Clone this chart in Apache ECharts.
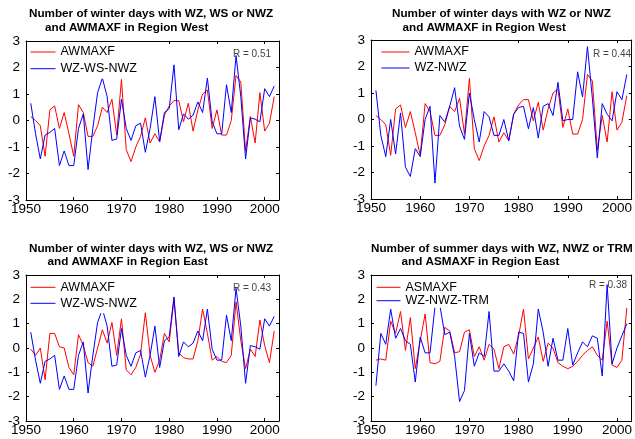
<!DOCTYPE html>
<html><head><meta charset="utf-8">
<script src="https://cdn.jsdelivr.net/npm/echarts@6/dist/echarts.min.js"></script>
<style>html,body{margin:0;padding:0;background:#fff}#c{width:635px;height:439px}</style>
</head><body><div id="c"></div>
<script>
// ---- data ----
const years = [1951,1952,1953,1954,1955,1956,1957,1958,1959,1960,
  1961,1962,1963,1964,1965,1966,1967,1968,1969,1970,
  1971,1972,1973,1974,1975,1976,1977,1978,1979,1980,
  1981,1982,1983,1984,1985,1986,1987,1988,1989,1990,
  1991,1992,1993,1994,1995,1996,1997,1998,1999,2000,
  2001,2002];
const awmaxfWest = [0.15,0.0,-0.2,-1.35,0.4,0.55,-0.3,0.3,-0.5,-1.35,
  0.6,0.3,-0.6,-0.6,-0.2,0.5,0.3,0.8,-0.55,1.55,
  -1.1,-1.55,-1.0,-0.6,0.1,-0.85,-0.5,-0.8,0.2,0.55,
  0.75,0.75,-0.05,0.65,-0.4,0.4,1.0,1.15,-0.3,0.4,
  -0.55,-0.55,0.0,1.7,1.45,-1.15,0.15,-0.85,1.05,-0.4,
  -0.1,0.9];
const wzWsNwz = [0.65,-0.5,-1.45,-0.55,-0.45,-0.3,-1.7,-1.15,-1.7,-1.7,
  -0.3,0.25,-1.85,-0.3,1.05,1.6,0.9,-0.75,-0.7,0.8,
  -0.3,-0.75,-0.2,-0.1,-1.2,-0.3,0.9,-0.8,0.3,0.45,
  2.1,-0.35,0.25,0.05,0.2,0.7,0.3,1.6,-0.05,-0.5,
  -0.5,1.35,0.3,2.45,0.9,-1.45,0.1,0.05,-0.05,1.2,
  0.9,1.3];
const wzNwz = [1.1,-0.6,-1.4,0.0,-1.3,0.25,-1.8,-2.15,-1.1,-1.4,
  0.0,0.5,-2.4,0.15,-0.1,0.5,1.2,-0.25,-0.75,1.0,
  0.0,-0.85,0.3,0.1,-0.6,-0.6,0.0,-0.8,0.2,0.45,
  0.5,-0.35,0.45,-0.7,0.5,0.6,0.15,1.4,-0.05,0.0,
  0.0,1.8,0.85,2.75,0.8,-1.45,0.6,0.2,-0.05,1.05,
  0.75,1.7];
const awmaxfEast = [-0.05,-0.3,0.0,-1.3,0.6,0.6,0.05,0.0,-0.8,-1.1,
  0.55,0.1,-0.6,-0.75,0.0,0.75,0.2,1.05,-0.3,1.2,
  -0.9,-1.1,-0.8,-0.25,1.45,-0.3,-1.0,-0.5,0.6,0.25,
  2.0,-0.2,-0.4,-0.45,-0.45,0.3,1.6,0.6,-0.5,-0.35,
  -0.55,-0.6,-0.3,1.9,0.3,-0.85,-0.05,-0.35,1.15,0.1,
  -0.6,0.7];
const asmaxfEast = [-0.5,-0.45,-0.5,1.1,0.6,1.5,-0.1,1.25,-0.85,0.3,
  1.4,-0.6,-0.65,-0.55,0.85,0.7,-0.2,-0.15,0.65,0.75,
  -0.35,0.05,-0.5,0.15,-0.05,-0.85,0.05,0.15,-0.25,0.5,
  1.6,-0.45,0.0,0.45,-0.55,0.2,0.0,-0.6,-0.75,-0.85,
  -0.75,-0.55,-0.3,-0.1,0.05,-0.3,-0.5,1.1,-0.7,-0.8,
  -0.5,1.65];
const wzNwzTrm = [-1.55,0.6,0.15,1.6,0.4,0.8,0.3,0.15,-1.4,0.45,
  -0.2,-0.2,1.7,1.75,0.55,0.65,-0.35,-2.2,-1.75,0.6,
  -0.75,-0.2,-0.35,1.5,-0.95,-0.95,-0.65,-0.95,-1.35,0.65,
  0.6,-1.4,-0.65,1.6,0.65,-0.75,0.4,-0.5,-0.5,0.8,
  -0.7,-0.2,0.25,0.05,0.5,0.4,-1.15,2.6,-0.65,0.0,
  0.5,1.0];
const xTickLabels = ['1950','1960','1970','1980','1990','2000'];
const yTickLabels = ['-3','-2','-1','0','1','2','3'];
const titleLines = [
  ['Number of winter days with WZ, WS or NWZ','and AWMAXF in Region West'],
  ['Number of winter days with WZ or NWZ','and AWMAXF in Region West'],
  ['Number of winter days with WZ, WS or NWZ','and AWMAXF in Region East'],
  ['Number of summer days with WZ, NWZ or TRM','and ASMAXF in Region East']
];
const rLabels = ['R = 0.51','R = 0.44','R = 0.43','R = 0.38'];
const redNames = ['AWMAXF','AWMAXF','AWMAXF','ASMAXF'];
const blueNames = ['WZ-WS-NWZ','WZ-NWZ','WZ-WS-NWZ','WZ-NWZ-TRM'];
const redData = [awmaxfWest, awmaxfWest, awmaxfEast, asmaxfEast];
const blueData = [wzWsNwz, wzNwz, wzWsNwz, wzNwzTrm];

// ---- layout ----
const FONT = '"Liberation Sans", Arial, Helvetica, sans-serif';
const grids = [
  {left:26, top:41, width:253, height:159},
  {left:371, top:40, width:262, height:159},
  {left:26, top:275, width:253, height:146},
  {left:371, top:275, width:262, height:146}
];
const titlePos = [
  [[29,14],[45,27.5]],
  [[392,14],[402.5,27.5]],
  [[29,248.3],[47.5,261.7]],
  [[371,248.3],[401.5,261.7]]
];
const rPos = [[271,54],[631,54],[271,288],[627,285]];
const legendPos = [
  {left:27, top:42, padding:[3,4,3,3.5], itemWidth:25, itemGap:2.7},
  {left:372, top:41, padding:[4,4,3,9.5], itemWidth:28, itemGap:2},
  {left:27, top:276, padding:[4.3,4,3,3.5], itemWidth:25, itemGap:2},
  {left:372, top:276, padding:[4.3,4,0,4.5], itemWidth:24, itemGap:-0.6}
];

const xAxes = [], yAxes = [], series = [], legends = [], graphics = [];
const axisLine = {onZero:false, lineStyle:{color:'#000', width:1}};
const axisTick = {inside:true, length:3, lineStyle:{color:'#000', width:1}};
grids.forEach((g, i) => {
  const xlab = {margin:2, fontSize:13.5, color:'#000', fontFamily:FONT,
    formatter: v => { const s = String(v); return xTickLabels.indexOf(s) >= 0 ? s : ''; }};
  const ylab = {margin:6, fontSize:13.5, color:'#000', fontFamily:FONT,
    formatter: v => { const s = String(v); return yTickLabels.indexOf(s) >= 0 ? s : ''; }};
  xAxes.push({gridIndex:i, type:'value', min:1950, max:2003, interval:10, position:'bottom',
    axisLine, axisTick, axisLabel:xlab, splitLine:{show:false}});
  xAxes.push({gridIndex:i, type:'value', min:1950, max:2003, interval:10, position:'top',
    axisLine, axisTick, axisLabel:{show:false}, splitLine:{show:false}});
  yAxes.push({gridIndex:i, type:'value', min:-3, max:3, interval:1, position:'left',
    axisLine, axisTick, axisLabel:ylab, splitLine:{show:false}});
  yAxes.push({gridIndex:i, type:'value', min:-3, max:3, interval:1, position:'right',
    axisLine, axisTick, axisLabel:{show:false}, splitLine:{show:false}});
  series.push({type:'line', name:redNames[i], xAxisIndex:2*i, yAxisIndex:2*i,
    data: years.map((y,k) => [y, redData[i][k]]), symbol:'none',
    lineStyle:{width:1, color:'#ff0000'}, itemStyle:{color:'#ff0000'}, z:2});
  series.push({type:'line', name:blueNames[i], xAxisIndex:2*i, yAxisIndex:2*i,
    data: years.map((y,k) => [y, blueData[i][k]]), symbol:'none',
    lineStyle:{width:1, color:'#0000ff'}, itemStyle:{color:'#0000ff'}, z:3});
  const lp = legendPos[i];
  legends.push({data:[redNames[i], blueNames[i]], orient:'vertical', left:lp.left, top:lp.top,
    padding:lp.padding, itemWidth:lp.itemWidth, itemHeight:1, itemGap:lp.itemGap, icon:'rect',
    backgroundColor:'#fff', selectedMode:false,
    textStyle:{fontSize:12.5, lineHeight:14, color:'#000', fontFamily:FONT}});
  titleLines[i].forEach((t, j) => {
    graphics.push({type:'text', x:titlePos[i][j][0], y:titlePos[i][j][1], silent:true, z:10,
      style:{text:t, fill:'#000', font:'bold 11.7px ' + FONT,
        align:'left', verticalAlign:'middle', textAlign:'left', textVerticalAlign:'middle'}});
  });
  graphics.push({type:'text', x:rPos[i][0], y:rPos[i][1], silent:true, z:10,
    style:{text:rLabels[i], fill:'#444', font:'10px ' + FONT,
      align:'right', verticalAlign:'middle', textAlign:'right', textVerticalAlign:'middle'}});
});

const chart = echarts.init(document.getElementById('c'), null, {renderer:'canvas'});
chart.setOption({
  animation:false,
  backgroundColor:'#fff',
  grid: grids.map(g => Object.assign({containLabel:false}, g)),
  xAxis: xAxes, yAxis: yAxes, series, legend: legends, graphic: graphics
});
</script></body></html>
